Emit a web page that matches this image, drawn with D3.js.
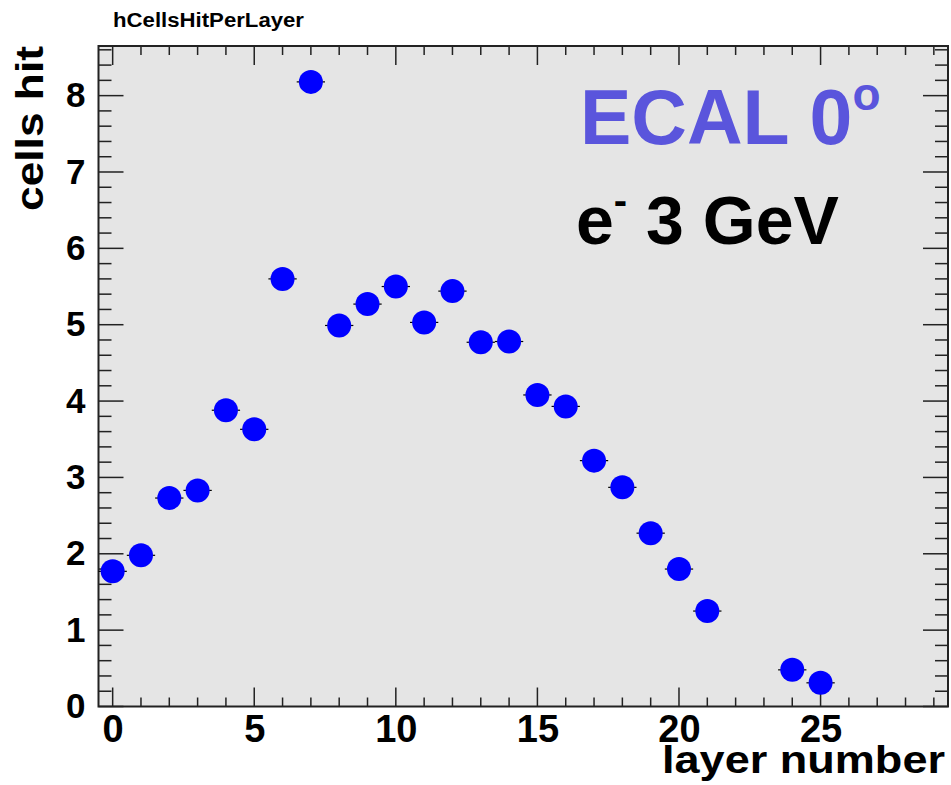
<!DOCTYPE html>
<html>
<head>
<meta charset="utf-8">
<script src="https://cdn.jsdelivr.net/npm/d3@7"></script>
<style>
  body { margin: 0; background: #fff; }
  text { font-family: "Liberation Sans", Arial, Helvetica, sans-serif; font-weight: bold; }
</style>
</head>
<body>
<script>
// layer number bins and mean cells hit per layer (empty bins left out)
var layers = [0, 1, 2, 3, 4, 5, 6, 7, 8, 9, 10, 11, 12, 13, 14, 15, 16, 17, 18, 19, 20, 21, 24, 25];
var cellsHit = [1.77, 1.98, 2.73, 2.83, 3.88, 3.63, 5.60, 8.18, 4.99, 5.27, 5.50, 5.03, 5.44, 4.77, 4.78,
                4.08, 3.93, 3.22, 2.87, 2.27, 1.80, 1.25, 0.48, 0.31];
var xTicks = [0, 5, 10, 15, 20, 25];
var yTicks = [0, 1, 2, 3, 4, 5, 6, 7, 8];

var width = 951, height = 785;
var padL = 98.5, padR = 948, padT = 46, padB = 706.5;

var svg = d3.select("body").append("svg")
    .attr("width", width)
    .attr("height", height);

var x = d3.scaleLinear().domain([-0.5, 29.5]).range([padL, padR]);
var y = d3.scaleLinear().domain([0, 8.65]).range([padB, padT]);

svg.append("rect")
    .attr("x", padL).attr("y", padT)
    .attr("width", padR - padL).attr("height", padB - padT)
    .attr("fill", "#e5e5e5");

// ticks drawn by hand on all four sides, ROOT style
var minorX = d3.range(0, 30, 1);
var minorY = d3.range(0, 8.61, 0.2);

var tickG = svg.append("g").attr("stroke", "#222").attr("stroke-width", 1.5);
minorX.forEach(function(v) {
    var major = v % 5 === 0;
    var len = major ? 19 : 9;
    tickG.append("line").attr("x1", x(v)).attr("x2", x(v)).attr("y1", padB).attr("y2", padB - len);
    tickG.append("line").attr("x1", x(v)).attr("x2", x(v)).attr("y1", padT).attr("y2", padT + len);
});
minorY.forEach(function(v) {
    var major = Math.abs(v - Math.round(v)) < 1e-6;
    var len = major ? 25 : 13;
    tickG.append("line").attr("x1", padL).attr("x2", padL + len).attr("y1", y(v)).attr("y2", y(v));
    tickG.append("line").attr("x1", padR).attr("x2", padR - len).attr("y1", y(v)).attr("y2", y(v));
});

svg.append("rect")
    .attr("x", padL).attr("y", padT)
    .attr("width", padR - padL).attr("height", padB - padT)
    .attr("fill", "none").attr("stroke", "#222").attr("stroke-width", 2);

// tick labels via d3 axes, lines hidden
var xAxis = svg.append("g")
    .attr("transform", "translate(0," + padB + ")")
    .call(d3.axisBottom(x).tickValues(xTicks).tickSize(0).tickPadding(9));
var yAxis = svg.append("g")
    .attr("transform", "translate(" + padL + ",0)")
    .call(d3.axisLeft(y).tickValues(yTicks).tickSize(0).tickPadding(13));
xAxis.attr("font-size", 38);
yAxis.attr("font-size", 35);
[xAxis, yAxis].forEach(function(a) {
    a.select(".domain").remove();
    a.attr("font-family", null);
    a.selectAll("text")
        .attr("font-weight", "bold")
        .attr("fill", "#000");
});
xAxis.selectAll("text").attr("dy", "0.71em");

// error bars
svg.append("g").selectAll("line")
    .data(layers)
    .enter()
        .append("line")
        .attr("x1", function(d) { return x(d - 0.5); })
        .attr("x2", function(d) { return x(d + 0.5); })
        .attr("y1", function(d, i) { return y(cellsHit[i]); })
        .attr("y2", function(d, i) { return y(cellsHit[i]); })
        .attr("stroke", "#000")
        .attr("stroke-width", 1.2);

svg.append("g").selectAll("circle")
    .data(layers)
    .enter()
        .append("circle")
        .attr("cx", function(d) { return x(d); })
        .attr("cy", function(d, i) { return y(cellsHit[i]); })
        .attr("r", 12)
        .attr("fill", "#0000ff");

// titles
svg.append("text")
    .attr("x", 113).attr("y", 27)
    .attr("font-size", 20)
    .attr("textLength", 191)
    .attr("lengthAdjust", "spacingAndGlyphs")
    .text("hCellsHitPerLayer");

svg.append("text")
    .attr("x", 945).attr("y", 773)
    .attr("text-anchor", "end")
    .attr("font-size", 39)
    .attr("textLength", 283)
    .attr("lengthAdjust", "spacingAndGlyphs")
    .text("layer number");

svg.append("text")
    .attr("transform", "translate(43,46) rotate(-90)")
    .attr("text-anchor", "end")
    .attr("font-size", 39)
    .attr("textLength", 165)
    .attr("lengthAdjust", "spacingAndGlyphs")
    .text("cells hit");

var t1 = svg.append("text")
    .attr("x", 580).attr("y", 144)
    .attr("font-size", 77)
    .attr("fill", "#5a55dc")
    .text("ECAL 0");
t1.append("tspan").attr("dy", -34).attr("font-size", 46).text("o");

var t2 = svg.append("text")
    .attr("x", 576).attr("y", 244)
    .attr("font-size", 68)
    .attr("fill", "#000");
t2.append("tspan").text("e");
t2.append("tspan").attr("dy", -30).attr("font-size", 40).text("-");
t2.append("tspan").attr("dy", 30).text("\u00a03 GeV");
</script>
</body>
</html>
